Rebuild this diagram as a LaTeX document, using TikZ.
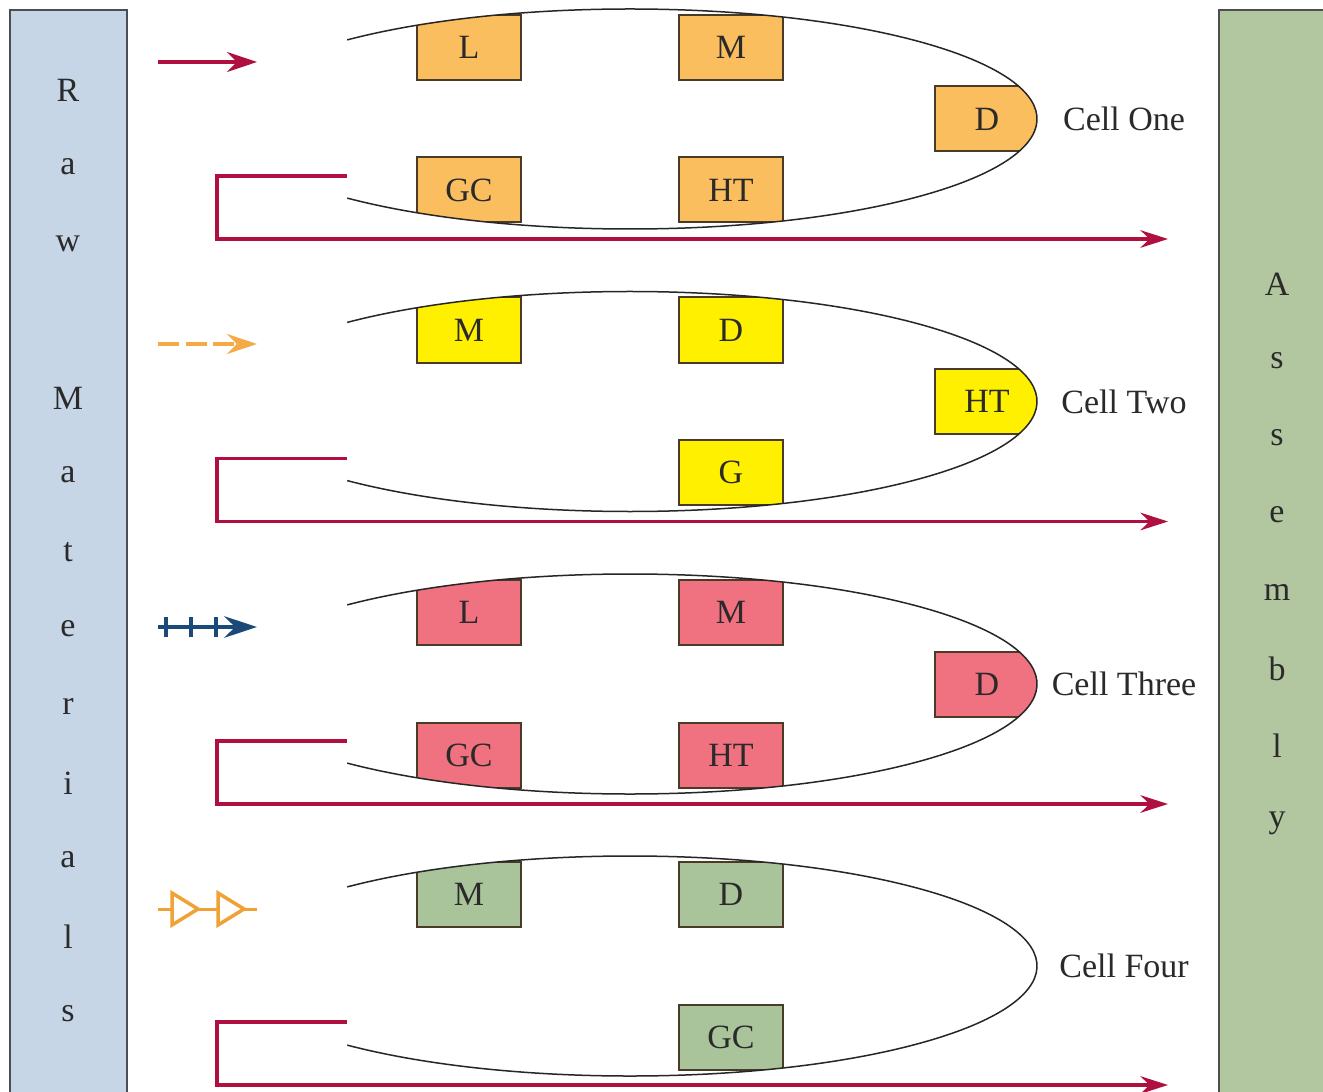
\documentclass[tikz,border=0pt]{standalone}
\usepackage{fontspec}
\setmainfont{Liberation Serif}
\usetikzlibrary{arrows.meta}

\definecolor{rawfill}{HTML}{C7D6E6}
\definecolor{asmfill}{HTML}{B2C7A0}
\definecolor{barline}{HTML}{4A4F55}
\definecolor{feedred}{HTML}{B0103F}
\definecolor{boxline}{HTML}{4A3A28}
\definecolor{orangeF}{HTML}{FBBE5E}
\definecolor{yellowF}{HTML}{FFF000}
\definecolor{pinkF}{HTML}{F0717F}
\definecolor{greenF}{HTML}{A9C49B}
\definecolor{dashorange}{HTML}{F5AA48}
\definecolor{navyplus}{HTML}{1B4A78}
\definecolor{diodeorange}{HTML}{F0A236}
\definecolor{inktext}{HTML}{2A2A2A}

\begin{document}
\begin{tikzpicture}[x=0.4pt, y=-0.4pt,
  font=\fontsize{13.6}{16}\selectfont, text=inktext,
  bar/.style={draw=barline, line width=0.8pt},
  unit/.style={draw=boxline, line width=0.8pt, minimum width=41.6pt,
               minimum height=26pt, inner sep=0pt},
  cellline/.style={draw=black!85, line width=0.6pt},
  feed/.style={draw=feedred, line width=1.3pt,
               -{Stealth[length=11pt, width=7pt]}},
  letter/.style={inner sep=0pt}]

% canvas
\clip (0,0) rectangle (1323,1091);
\fill[white] (0,0) rectangle (1323,1091);

% side bars
\draw[bar, fill=rawfill] (10,10) rectangle (127,1110);
\draw[bar, fill=asmfill] (1219,10) rectangle (1340,1110);
\foreach \ch [count=\i from 0] in {R,a,w,{},M,a,t,e,r,i,a,l,s}
  \node[letter] (raw\i) at (68,90+77*\i) {\ch};
\foreach \ch [count=\i from 0] in {A,s,s,e,m,b,l,y}
  \node[letter] (asm\i) at (1277,284+77*\i) {\ch};

% ---------------- Cell One ----------------
\begin{scope}[shift={(0,119)}]
  \coordinate (c1) at (630,0);
  \begin{scope}
    \clip (c1) ellipse [x radius=162.8pt, y radius=44pt];
    \node[unit, fill=orangeF] (c1L)  at (469,-71.5) {L};
    \node[unit, fill=orangeF] (c1M)  at (731,-71.5) {M};
    \node[unit, fill=orangeF] (c1D)  at (987,0)     {D};
    \node[unit, fill=orangeF] (c1GC) at (469,71)    {GC};
    \node[unit, fill=orangeF] (c1HT) at (731,71)    {HT};
  \end{scope}
  \draw[cellline] ([shift={(134:162.8pt and 44pt)}]c1)
    arc[start angle=134, end angle=-134, x radius=162.8pt, y radius=44pt];
  \node (c1name) at (1124,0) {Cell One};
  \coordinate (c1in)  at (158,-57);
  \coordinate (c1to)  at (257,-57);
  \draw[feedred, line width=1.3pt, -{Stealth[length=12pt, width=8pt]}] (c1in) -- (c1to);
  \coordinate (c1fa) at (347,57);
  \coordinate (c1fk) at (217,57);
  \coordinate (c1fb) at (1168,120);
  \draw[feed] (c1fa) -- (c1fk) |- (c1fb);
\end{scope}

% ---------------- Cell Two ----------------
\begin{scope}[shift={(0,401.5)}]
  \coordinate (c2) at (630,0);
  \begin{scope}
    \clip (c2) ellipse [x radius=162.8pt, y radius=44pt];
    \node[unit, fill=yellowF] (c2M)  at (469,-71.5) {M};
    \node[unit, fill=yellowF] (c2D)  at (731,-71.5) {D};
    \node[unit, fill=yellowF] (c2HT) at (987,0)     {HT};
    \node[unit, fill=yellowF] (c2G)  at (731,71)    {G};
  \end{scope}
  \draw[cellline] ([shift={(134:162.8pt and 44pt)}]c2)
    arc[start angle=134, end angle=-134, x radius=162.8pt, y radius=44pt];
  \node (c2name) at (1124,0) {Cell Two};
  \coordinate (c2in)  at (158,-57.5);
  \coordinate (c2to)  at (257,-57.5);
  \draw[dashorange, line width=1.3pt, dash pattern=on 8.5pt off 2.5pt,
        -{Stealth[length=12pt, width=8pt]}] (c2in) -- (c2to);
  \coordinate (c2fa) at (347,57);
  \coordinate (c2fk) at (217,57);
  \coordinate (c2fb) at (1168,120);
  \draw[feed] (c2fa) -- (c2fk) |- (c2fb);
\end{scope}

% ---------------- Cell Three ----------------
\begin{scope}[shift={(0,684)}]
  \coordinate (c3) at (630,0);
  \begin{scope}
    \clip (c3) ellipse [x radius=162.8pt, y radius=44pt];
    \node[unit, fill=pinkF] (c3L)  at (469,-71.5) {L};
    \node[unit, fill=pinkF] (c3M)  at (731,-71.5) {M};
    \node[unit, fill=pinkF] (c3D)  at (987,0)     {D};
    \node[unit, fill=pinkF] (c3GC) at (469,71)    {GC};
    \node[unit, fill=pinkF] (c3HT) at (731,71)    {HT};
  \end{scope}
  \draw[cellline] ([shift={(134:162.8pt and 44pt)}]c3)
    arc[start angle=134, end angle=-134, x radius=162.8pt, y radius=44pt];
  \node (c3name) at (1124,0) {Cell Three};
  \coordinate (c3in)  at (158,-57);
  \coordinate (c3to)  at (257,-57);
  \draw[navyplus, line width=1.8pt, -{Stealth[length=13pt, width=8.5pt]}] (c3in) -- (c3to);
  \foreach \cx in {166,191,216}
    \draw[navyplus, line width=1.8pt] (\cx-8,-57) -- (\cx+8,-57) (\cx,-67) -- (\cx,-47);
  \coordinate (c3fa) at (347,57);
  \coordinate (c3fk) at (217,57);
  \coordinate (c3fb) at (1168,120);
  \draw[feed] (c3fa) -- (c3fk) |- (c3fb);
\end{scope}

% ---------------- Cell Four ----------------
\begin{scope}[shift={(0,966)}]
  \coordinate (c4) at (630,0);
  \begin{scope}
    \clip (c4) ellipse [x radius=162.8pt, y radius=44pt];
    \node[unit, fill=greenF] (c4M)  at (469,-71.5) {M};
    \node[unit, fill=greenF] (c4D)  at (731,-71.5) {D};
    \node[unit, fill=greenF] (c4GC) at (731,71.5)  {GC};
  \end{scope}
  \draw[cellline] ([shift={(134:162.8pt and 44pt)}]c4)
    arc[start angle=134, end angle=-134, x radius=162.8pt, y radius=44pt];
  \node (c4name) at (1124,0) {Cell Four};
  \coordinate (c4in)  at (158,-57);
  \coordinate (c4to)  at (257,-57);
  \draw[diodeorange, line width=1.2pt] (c4in) -- (c4to);
  \foreach \tx in {172,218}
    \draw[diodeorange, line width=1.4pt, fill=white, line join=miter]
      (\tx,-73) -- (\tx+26,-57) -- (\tx,-41) -- cycle;
  \coordinate (c4fa) at (347,56);
  \coordinate (c4fk) at (217,56);
  \coordinate (c4fb) at (1168,119);
  \draw[feed] (c4fa) -- (c4fk) |- (c4fb);
\end{scope}
\end{tikzpicture}
\end{document}
